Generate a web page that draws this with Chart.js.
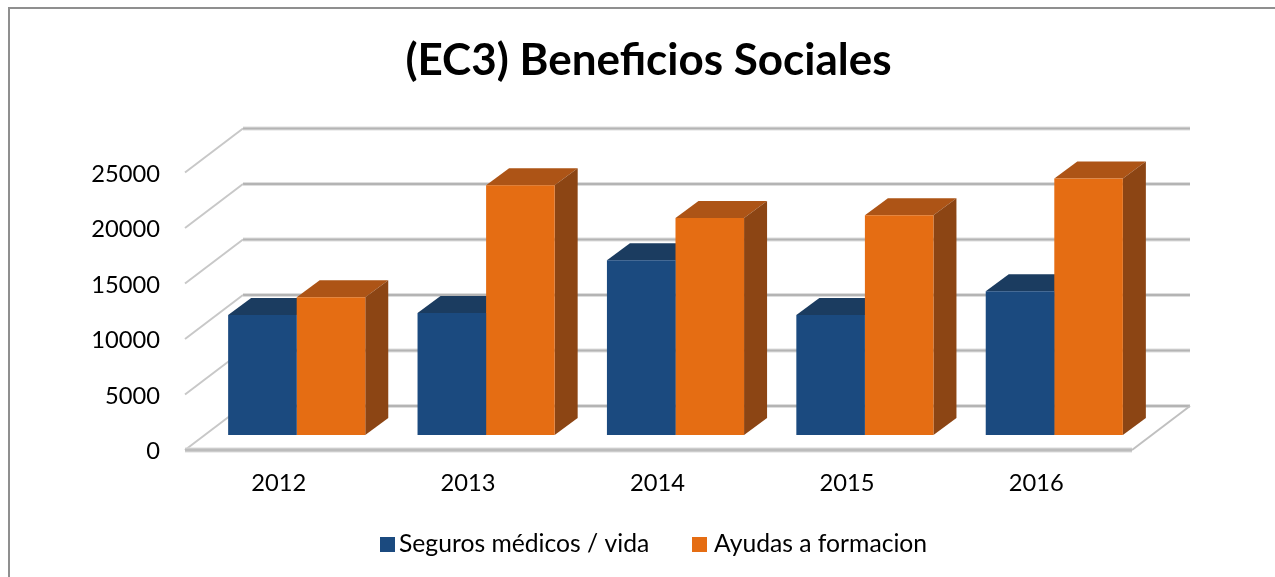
<!DOCTYPE html>
<html><head><meta charset="utf-8">
<script src="https://cdn.jsdelivr.net/npm/chart.js@4"></script>
<style>
html,body{margin:0;padding:0;background:#fff;overflow:hidden}
#wrap{position:relative;width:1275px;height:577px}
canvas{display:block}
</style></head><body>
<div id="wrap"><canvas id="c" width="1275" height="577"></canvas></div>
<script>
const categories = ['2012','2013','2014','2015','2016'];
const seguros = [10800, 11000, 15750, 10800, 12950];
const ayudas = [12400, 22500, 19550, 19800, 23100];
const yTicks = [0,5000,10000,15000,20000,25000];
const seriesNames = ['Seguros médicos / vida','Ayudas a formacion'];
const FONT = 'Lato, "Open Sans", sans-serif';

const WALL = {dx:58, dy:-44};
const BAR_OFFSET = {dx:17, dy:-15};
const BAR_DEPTH = {dx:23, dy:-17};
const faces = [
  {top:'#1b3c60', side:'#17304e'},
  {top:'#ad5416', side:'#8c4514'}
];

function poly(ctx, pts, fill){
  ctx.beginPath();
  pts.forEach((p,i)=> i?ctx.lineTo(p[0],p[1]):ctx.moveTo(p[0],p[1]));
  ctx.closePath();
  ctx.fillStyle = fill;
  ctx.fill();
}

const frame = {
  id:'frame',
  beforeDraw(chart){
    const c = chart.ctx;
    c.save();
    c.strokeStyle = '#8f8f8f';
    c.lineWidth = 2;
    c.beginPath();
    c.moveTo(9,577); c.lineTo(9,8); c.lineTo(1275,8);
    c.stroke();
    c.restore();
  }
};

const walls = {
  id:'walls',
  beforeDatasetsDraw(chart){
    const c = chart.ctx, y = chart.scales.y, a = chart.chartArea;
    c.save();
    yTicks.forEach(t=>{
      const py = y.getPixelForValue(t);
      c.strokeStyle = '#dedede'; c.lineWidth = 4;
      c.beginPath(); c.moveTo(a.left+WALL.dx, py+WALL.dy); c.lineTo(a.right+WALL.dx, py+WALL.dy); c.stroke();
      c.strokeStyle = '#b4b4b4'; c.lineWidth = 2;
      c.beginPath(); c.moveTo(a.left+WALL.dx, py+WALL.dy); c.lineTo(a.right+WALL.dx, py+WALL.dy); c.stroke();
      c.strokeStyle = '#c8c8c8'; c.lineWidth = 2;
      c.beginPath(); c.moveTo(a.left, py); c.lineTo(a.left+WALL.dx, py+WALL.dy); c.stroke();
    });
    const p0 = y.getPixelForValue(0);
    c.strokeStyle = '#dcdcdc'; c.lineWidth = 5;
    c.beginPath(); c.moveTo(a.left, p0); c.lineTo(a.right, p0); c.stroke();
    c.strokeStyle = '#bcbcbc'; c.lineWidth = 3;
    c.beginPath(); c.moveTo(a.left, p0); c.lineTo(a.right, p0); c.stroke();
    c.strokeStyle = '#c0c0c0'; c.lineWidth = 2;
    c.beginPath(); c.moveTo(a.right, p0); c.lineTo(a.right+WALL.dx, p0+WALL.dy); c.stroke();
    c.translate(BAR_OFFSET.dx, BAR_OFFSET.dy);
    chart.data.datasets.forEach((ds,i)=>{
      chart.getDatasetMeta(i).data.forEach(el=>{
        const p = el.getProps(['x','y','base','width'], true);
        const l = p.x-p.width/2, r = p.x+p.width/2, d = BAR_DEPTH;
        poly(c, [[l,p.y],[r,p.y],[r+d.dx,p.y+d.dy],[l+d.dx,p.y+d.dy]], faces[i].top);
        poly(c, [[r,p.y],[r+d.dx,p.y+d.dy],[r+d.dx,p.base+d.dy],[r,p.base]], faces[i].side);
      });
    });
    c.restore();
    c.save();
    c.translate(BAR_OFFSET.dx, BAR_OFFSET.dy);
  },
  afterDatasetsDraw(chart){ chart.ctx.restore(); }
};

const legendBoxes = {
  id:'legendBoxes',
  afterDraw(chart){
    const c = chart.ctx, spots = [{box:380, text:399},{box:692, text:714}];
    c.save();
    c.font = '24.7px ' + FONT;
    c.textBaseline = 'middle';
    c.textAlign = 'left';
    chart.data.datasets.forEach((ds,i)=>{
      c.fillStyle = ds.backgroundColor;
      c.fillRect(spots[i].box, 537, 15, 15);
      c.fillStyle = '#000';
      c.fillText(ds.label, spots[i].text, 544.5);
    });
    c.restore();
  }
};

new Chart(document.getElementById('c'), {
  type:'bar',
  data:{
    labels:categories,
    datasets:[
      {label:seriesNames[0], data:seguros, backgroundColor:'#1b4a7f', categoryPercentage:0.724, barPercentage:1},
      {label:seriesNames[1], data:ayudas, backgroundColor:'#e56d13', categoryPercentage:0.724, barPercentage:1}
    ]
  },
  plugins:[frame, walls, legendBoxes],
  options:{
    responsive:false,
    animation:false,
    layout:{padding:{left:22,right:0,top:0,bottom:0}},
    plugins:{
      title:{display:true, text:'(EC3) Beneficios Sociales', color:'#000',
        font:{family:FONT, size:44, weight:'bold'}, padding:{top:34.6,bottom:85.1}},
      legend:{display:false},
      tooltip:{enabled:false}
    },
    scales:{
      x:{
        afterFit(s){ s.height = 127; },
        grid:{display:false, drawTicks:false}, border:{display:false},
        ticks:{color:'#000', font:{family:FONT,size:23.7}, padding:19, labelOffset:-1}
      },
      y:{
        min:0, max:25000,
        afterBuildTicks(s){ s.ticks = yTicks.map(v=>({value:v})); },
        afterFit(s){ s.width = 163; },
        grid:{display:false, drawTicks:false}, border:{display:false},
        ticks:{color:'#000', font:{family:FONT,size:23.7}, padding:25, labelOffset:1.5, callback:v=>String(v)}
      },
      yPad:{
        position:'right', min:0, max:25000,
        afterFit(s){ s.width = 143; },
        grid:{display:false, drawTicks:false}, border:{display:false},
        ticks:{display:false}
      }
    }
  }
});
</script>
</body></html>
